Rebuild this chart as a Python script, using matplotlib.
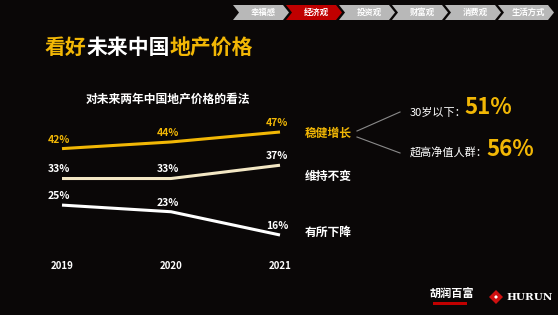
import matplotlib.pyplot as plt
from matplotlib.patches import Polygon

plt.rcParams['font.family'] = ['Noto Sans CJK SC', 'DejaVu Sans']
plt.rcParams['font.weight'] = 'bold'

years = [2019, 2020, 2021]
rise = [42, 44, 47]
same = [33, 33, 37]
fall = [25, 23, 16]
series_names = ['稳健增长', '维持不变', '有所下降']
tabs = ['幸福感', '经济观', '投资观', '财富观', '消费观', '生活方式']
active_tab = '经济观'

gold = '#f2b705'
cream = '#f3e7c4'
bg = '#0a0707'

fig = plt.figure(figsize=(5.58, 3.15), dpi=100, facecolor=bg)

# overlay in pixel coords for the decorations
deco = fig.add_axes([0, 0, 1, 1])
deco.set_xlim(0, 558)
deco.set_ylim(315, 0)
deco.axis('off')

# nav chevrons
for i, t in enumerate(tabs):
    x0 = 233 + 53 * i
    x1 = x0 + 50
    pts = [(x0, 5), (x1, 5), (x1 + 6, 12.5), (x1, 20), (x0, 20), (x0 + 6, 12.5)]
    c = '#c00000' if t == active_tab else '#b8b8b8'
    deco.add_patch(Polygon(pts, closed=True, facecolor=c, edgecolor='none'))
    deco.text(x0 + 30, 12.5, t, color='white', fontsize=6, ha='center', va='center')

# title
tx = 45
for part, col in [('看好', gold), ('未来中国', 'white'), ('地产价格', gold)]:
    deco.text(tx, 47, part, color=col, fontsize=15, ha='left', va='center')
    tx += 20.7 * len(part)

deco.text(168, 99, '对未来两年中国地产价格的看法', color='white', fontsize=8.5,
          ha='center', va='center')

# right side labels
deco.text(305, 133, series_names[0], color=gold, fontsize=8.5, ha='left', va='center')
deco.text(305, 176, series_names[1], color='white', fontsize=8.5, ha='left', va='center')
deco.text(305, 232, series_names[2], color='white', fontsize=8.5, ha='left', va='center')
deco.plot([357, 400], [131, 112], color='#8a8a8a', lw=0.8)
deco.plot([357, 400], [137, 153], color='#8a8a8a', lw=0.8)
deco.text(410, 113, '30岁以下：', color='white', fontsize=8, ha='left', va='center',
          fontweight='normal')
deco.text(464, 108, '51%', color=gold, fontsize=16, ha='left', va='center')
deco.text(410, 153, '超高净值人群：', color='white', fontsize=8, ha='left', va='center',
          fontweight='normal')
deco.text(486, 149, '56%', color=gold, fontsize=16, ha='left', va='center')

# logo
deco.text(430, 294, '胡润百富', color='white', fontsize=8, ha='left', va='center')
deco.add_patch(Polygon([(433, 302), (467, 302), (467, 305), (433, 305)], facecolor='#c00000'))
deco.add_patch(Polygon([(496, 290), (503, 297), (496, 304), (489, 297)], facecolor='#d01010'))
deco.add_patch(Polygon([(496, 295), (498, 297), (496, 299), (494, 297)], facecolor='white'))
deco.text(506, 297, 'HURUN', color='white', fontsize=7.5, ha='left', va='center',
          family='DejaVu Serif')

# chart axes mapped so data lands on the reference pixels
ax = fig.add_axes([62 / 558, 1 - 235 / 315, 218 / 558, 103 / 315])
ax.patch.set_alpha(0)
ax.set_xlim(2019, 2021)
ax.set_ylim(16, 47)
for s in ax.spines.values():
    s.set_visible(False)
ax.set_yticks([])
ax.set_xticks(years)
ax.set_xticklabels([str(y) for y in years])
ax.tick_params(axis='x', length=0, pad=19, labelcolor='white', labelsize=7)

for vals, col in [(rise, gold), (same, cream), (fall, 'white')]:
    ax.plot(years, vals, color=col, lw=2.2, clip_on=False, solid_capstyle='butt')
    lc = gold if col == gold else 'white'
    for x, v in zip(years, vals):
        ax.annotate(f'{v}%', (x, v), xytext=(-2, 6.5), textcoords='offset points',
                    color=lc, fontsize=7.5, ha='center', va='center')

fig.savefig('out.png', dpi=100, facecolor=bg)
